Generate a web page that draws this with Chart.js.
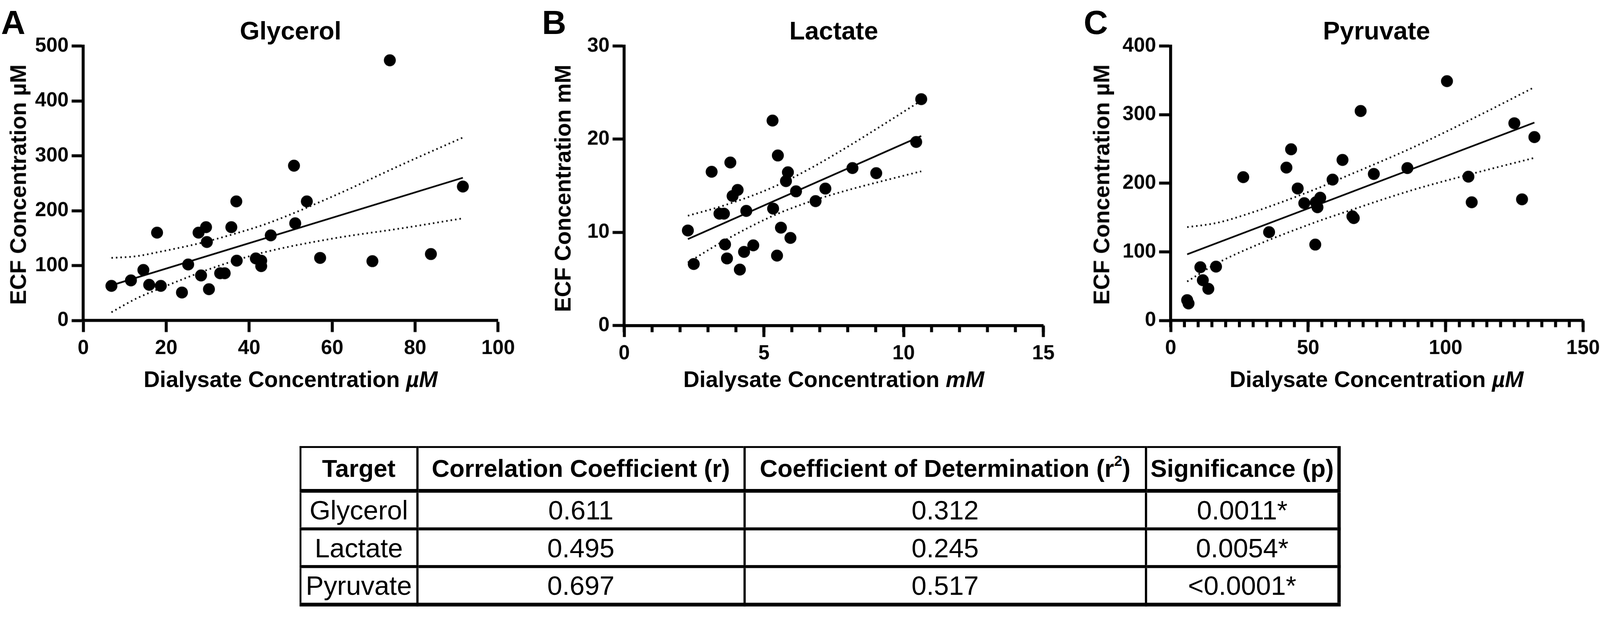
<!DOCTYPE html>
<html>
<head>
<meta charset="utf-8">
<script src="https://cdn.jsdelivr.net/npm/chart.js@4.4.1/dist/chart.umd.min.js"></script>
<style>
  html, body { margin:0; padding:0; background:#fff; overflow:hidden; }
  body { font-family:'Liberation Sans', Arial, Helvetica, sans-serif; color:#000; }
  #stage { position:absolute; left:0; top:0; width:4289px; height:1631px; transform-origin:0 0; background:#fff; }
  .box { position:absolute; }
  .letter { position:absolute; font-size:90px; font-weight:bold; line-height:1; top:15px; }
  .ptitle, .xtitle, .ytitle { position:absolute; font-weight:bold; line-height:1; white-space:nowrap;
         transform:translate(-50%,-50%); }
  .ptitle { font-size:68px; top:82px; }
  .xtitle { font-size:60px; top:1018px; }
  .ytitle { font-size:60px; transform:translate(-50%,-50%) rotate(-90deg); }
  table { position:absolute; left:803px; top:1196px; border-collapse:collapse; table-layout:fixed;
          border-top:5px solid #000; border-left:5px solid #000; border-right:9px solid #000; border-bottom:10px solid #000; }
  th, td { padding:0; text-align:center; vertical-align:middle; line-height:1; white-space:nowrap; }
  th { font-size:66px; font-weight:bold; height:110px; border-bottom:10px solid #000; }
  td { font-size:72px; height:93px; border-bottom:8px solid #000; }
  th + th, td + td { border-left:6px solid #000; }
  sup { font-size:0.6em; vertical-align:0.75em; line-height:0; }
</style>
</head>
<body>
<div id="stage">
<div class="box" style="left:23px;top:83px;width:1372px;height:906px"><canvas id="chartA"></canvas></div>
<div class="box" style="left:1473px;top:83px;width:1383px;height:919px"><canvas id="chartB"></canvas></div>
<div class="box" style="left:2938px;top:83px;width:1365px;height:906px"><canvas id="chartC"></canvas></div>

<div class="letter" style="left:3px">A</div>
<div class="letter" style="left:1453px">B</div>
<div class="letter" style="left:2905px">C</div>

<div class="ptitle" style="left:779px">Glycerol</div>
<div class="ptitle" style="left:2235px">Lactate</div>
<div class="ptitle" style="left:3690px">Pyruvate</div>

<div class="ytitle" style="left:49px;top:495px">ECF Concentration µM</div>
<div class="ytitle" style="left:1509px;top:505px">ECF Concentration mM</div>
<div class="ytitle" style="left:2953px;top:495px">ECF Concentration µM</div>

<div class="xtitle" style="left:779px">Dialysate Concentration <i>µM</i></div>
<div class="xtitle" style="left:2235px">Dialysate Concentration <i>mM</i></div>
<div class="xtitle" style="left:3690px">Dialysate Concentration <i>µM</i></div>

<table>
  <colgroup><col style="width:313px"><col style="width:877px"><col style="width:1076px"><col style="width:518px"></colgroup>
  <thead><tr><th>Target</th><th>Correlation Coefficient (r)</th><th>Coefficient of Determination (r<sup>2</sup>)</th><th>Significance (p)</th></tr></thead>
  <tbody id="statsBody"></tbody>
</table>
</div>

<script>
// Glycerol (A)
const glycerolX=[6.8,11.5,14.5,15.9,17.8,18.7,23.8,25.3,27.8,28.4,29.6,29.8,30.3,33.0,34.1,35.7,36.9,37.0,41.6,42.9,42.9,45.2,50.8,51.1,53.9,57.1,69.7,73.9,83.8,91.5];
const glycerolY=[63,73,92,65,160,63,51,102,160,82,170,143,57,86,86,170,217,109,113,109,99,155,282,177,217,114,108,474,121,244];
const glycerolFitX=[6.8,91.5], glycerolFitY=[64,260];
const glycerolBandX=[6.8,12.7,18.7,28.4,36.5,44.6,60.7,76.8,91.4];
const glycerolUpper=[114,117,125.5,141.3,158,177.4,228,284,333];
const glycerolLower=[15,39.6,59,88,109,126,150,168,186];

// Lactate (B)
const lactateX=[2.28,2.49,3.13,3.41,3.57,3.61,3.68,3.80,3.88,4.06,4.14,4.29,4.37,4.62,5.31,5.33,5.47,5.50,5.61,5.79,5.86,5.95,6.15,6.85,7.20,8.17,9.02,10.45,10.63];
const lactateY=[10.2,6.6,16.5,12.0,12.0,8.7,7.2,17.5,13.9,14.55,6.0,7.9,12.3,8.6,22.0,12.55,7.5,18.25,10.5,15.5,16.45,9.4,14.4,13.35,14.7,16.9,16.35,19.7,24.3];
const lactateFitX=[2.28,10.63], lactateFitY=[9.27,20.34];
const lactateBandX=[2.28,3.62,5.30,6.61,7.81,9.01,10.63];
const lactateUpper=[11.78,12.93,14.81,16.78,18.85,21.07,24.14];
const lactateLower=[6.76,9.17,11.74,13.26,14.37,15.33,16.55];

// Pyruvate (C)
const pyruvateX=[6.0,6.5,10.8,11.7,13.7,16.5,26.4,35.8,42.1,43.8,46.2,48.6,52.6,52.8,53.4,54.4,58.9,62.5,66.1,66.6,69.1,73.9,86.1,100.5,108.3,109.5,125.0,127.8,132.3];
const pyruvateY=[29.7,24.8,77.6,58.7,46.2,78.5,208.9,128.7,222.8,249.5,192.4,171,110.6,172.3,165,178.9,205.3,234,151.8,149.2,305.3,213.5,222.1,348.8,209.6,172.3,287.5,176.6,267.3];
const pyruvateFitX=[6.0,132.3], pyruvateFitY=[96.4,288.4];
const pyruvateBandX=[6.0,16.5,27.8,51.8,63.7,87.7,111.7,132.3];
const pyruvateUpper=[136,142,155,190,210,251.5,298,340];
const pyruvateLower=[56.8,82.5,104,142,158.4,189.8,216,237];

// stats table
const targets=['Glycerol','Lactate','Pyruvate'];
const rValues=['0.611','0.495','0.697'];
const r2Values=['0.312','0.245','0.517'];
const pValues=['0.0011*','0.0054*','<0.0001*'];

// fit the 4289x1631 stage into whatever the window really is
const stage=document.getElementById('stage');
const k=Math.min(window.innerWidth/4289, window.innerHeight/1631, 1);
if(k<0.999) stage.style.transform='scale('+k+')';

const tb=document.getElementById('statsBody');
targets.forEach((t,i)=>{
  const tr=document.createElement('tr');
  [t,rValues[i],r2Values[i],pValues[i]].forEach(v=>{
    const td=document.createElement('td'); td.textContent=v; tr.appendChild(td);
  });
  tb.appendChild(tr);
});

Chart.defaults.font.family="'Liberation Sans', Arial, Helvetica, sans-serif";
Chart.defaults.color='#000';

const pairs=(xs,ys)=>xs.map((x,i)=>({x,y:ys[i]}));

// short ticks between the labelled ones
const minorTicks={
  id:'minorTicks',
  afterDraw(chart,args,opts){
    if(!opts.step) return;
    const sx=chart.scales.x, ctx=chart.ctx, y0=chart.chartArea.bottom;
    ctx.save();
    ctx.strokeStyle='#000'; ctx.lineWidth=8;
    for(let v=sx.min; v<=sx.max+1e-9; v+=opts.step){
      const px=sx.getPixelForValue(v);
      ctx.beginPath(); ctx.moveTo(px,y0); ctx.lineTo(px,y0+opts.length); ctx.stroke();
    }
    ctx.restore();
  }
};

function axis(min,max,step,isX){
  return {
    type:'linear', min, max,
    ticks:{stepSize:step, color:'#000', font:{size:54, weight:'bold'}, padding:isX?12:8, maxRotation:0, autoSkip:false},
    grid:{display:true, drawOnChartArea:false, drawTicks:true, tickLength:31, tickWidth:8, tickColor:'#000'},
    border:{display:true, width:8, color:'#000'},
    afterFit: isX ? (s=>{s.height=130;}) : (s=>{s.width=200;})
  };
}

function panel(id,cfg){
  const line={showLine:true, borderColor:'#000', pointRadius:0, fill:false};
  return new Chart(document.getElementById(id),{
    type:'scatter',
    data:{datasets:[
      {data:pairs(cfg.x,cfg.y), pointRadius:16, pointBackgroundColor:'#000', pointBorderWidth:0, backgroundColor:'#000'},
      Object.assign({data:pairs(cfg.fitX,cfg.fitY), borderWidth:4.5},line),
      Object.assign({data:pairs(cfg.bandX,cfg.upper), borderWidth:4.5, borderDash:[4,8], cubicInterpolationMode:'monotone'},line),
      Object.assign({data:pairs(cfg.bandX,cfg.lower), borderWidth:4.5, borderDash:[4,8], cubicInterpolationMode:'monotone'},line)
    ]},
    options:{
      animation:false, responsive:true, maintainAspectRatio:false,
      devicePixelRatio:(window.devicePixelRatio||1)*k,
      layout:{padding:{top:40,right:60,left:0,bottom:0}},
      plugins:{legend:{display:false}, tooltip:{enabled:false}, minorTicks:cfg.minor||{}},
      scales:{ x:axis(0,cfg.xMax,cfg.xStep,true), y:axis(0,cfg.yMax,cfg.yStep,false) }
    },
    plugins:[minorTicks]
  });
}

panel('chartA',{x:glycerolX,y:glycerolY,fitX:glycerolFitX,fitY:glycerolFitY,bandX:glycerolBandX,upper:glycerolUpper,lower:glycerolLower,
  xMax:100,xStep:20,yMax:500,yStep:100});
panel('chartB',{x:lactateX,y:lactateY,fitX:lactateFitX,fitY:lactateFitY,bandX:lactateBandX,upper:lactateUpper,lower:lactateLower,
  xMax:15,xStep:5,yMax:30,yStep:10,minor:{step:1,length:18}});
panel('chartC',{x:pyruvateX,y:pyruvateY,fitX:pyruvateFitX,fitY:pyruvateFitY,bandX:pyruvateBandX,upper:pyruvateUpper,lower:pyruvateLower,
  xMax:150,xStep:50,yMax:400,yStep:100,minor:{step:5,length:18}});
</script>
</body>
</html>
